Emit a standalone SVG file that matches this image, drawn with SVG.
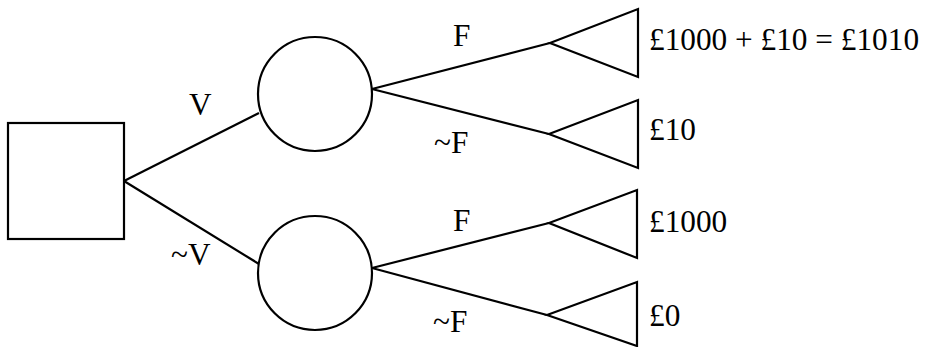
<svg xmlns="http://www.w3.org/2000/svg" width="925" height="347" viewBox="0 0 925 347">
<style>
.s{fill:none;stroke:#000;stroke-width:2.2}
.n{fill:#fff;stroke:#000;stroke-width:2.2}
.t{font-family:'Liberation Serif','Times New Roman',serif;font-size:31.3px;fill:#000}
</style>
<rect width="925" height="347" fill="#fff"/>
<g id="connectors" class="s">
<line x1="124" y1="181" x2="259" y2="113"/>
<line x1="124" y1="181" x2="259" y2="264"/>
<line x1="372" y1="89" x2="550" y2="43"/>
<line x1="372" y1="89" x2="549" y2="134"/>
<line x1="372" y1="268" x2="549" y2="223"/>
<line x1="372" y1="268" x2="547" y2="315"/>
</g>
<g id="decision"><rect class="n" x="8" y="123" width="116" height="116"/></g>
<g id="chance1"><circle class="n" cx="315" cy="94" r="57"/></g>
<g id="chance2"><circle class="n" cx="315" cy="273" r="57"/></g>
<g id="out1"><polygon class="n" points="550,43 638,9 638,77"/></g>
<g id="out2"><polygon class="n" points="549,134 638,100 638,168"/></g>
<g id="out3"><polygon class="n" points="549,223 637,190 637,258"/></g>
<g id="out4"><polygon class="n" points="547,315 637,282 637,346"/></g>
<g id="labels" class="t">
<text x="189" y="115">V</text>
<text x="171" y="265">~V</text>
<text x="453" y="46">F</text>
<text x="434" y="153">~F</text>
<text x="453" y="231">F</text>
<text x="433" y="332">~F</text>
<text x="649" y="50">£1000 + £10 = £1010</text>
<text x="649" y="140">£10</text>
<text x="649" y="232">£1000</text>
<text x="649" y="326">£0</text>
</g>
</svg>
